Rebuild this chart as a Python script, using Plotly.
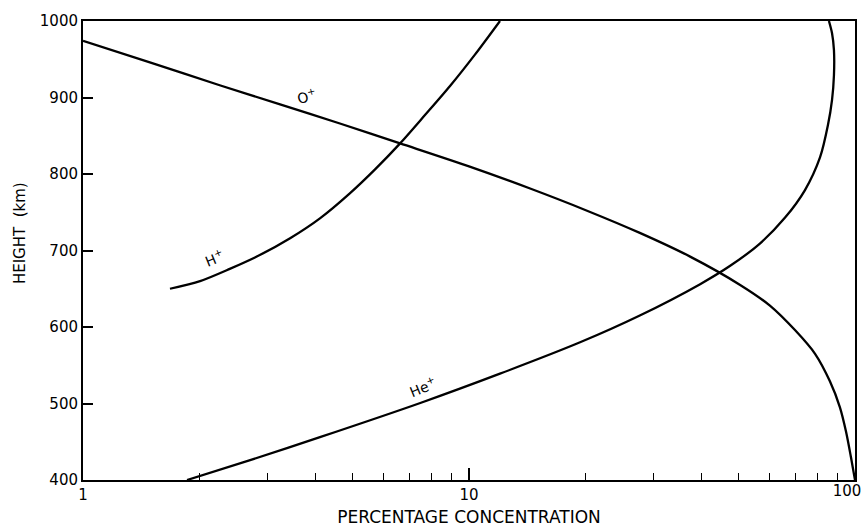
import plotly.graph_objects as go

# O+ percentage vs height (km)
o_pct = [1, 1.49, 2.26, 3.24, 4.63, 6.63, 10, 14.4, 20.0, 27.7, 37.4, 50.4, 60.2, 69.9, 78.8, 86.1, 91.4, 94.8, 97.6, 100]
o_h   = [974, 946, 916, 891, 866, 840, 810, 781, 753, 723, 692, 655, 628, 596, 565, 529, 495, 463, 430, 400]

# H+ percentage vs height (km)
h_pct = [1.68, 2.01, 2.40, 2.87, 3.44, 4.11, 4.92, 5.71, 6.63, 7.69, 8.93, 10.36, 12.03]
h_h   = [650, 660, 676, 694, 716, 742, 775, 806, 840, 877, 915, 956, 1000]

# He+ percentage vs height (km)
he_pct = [1.86, 2.71, 4.11, 7.51, 12.03, 19.4, 27.7, 39.7, 47.5, 56.7, 65.9, 74.2, 81.2, 85.1, 87.2, 88.2, 88.2, 87.2, 85.6]
he_h   = [400, 426, 456, 501, 539, 580, 615, 656, 680, 709, 743, 779, 822, 864, 897, 929, 962, 984, 1000]

x_ticks = [1, 2, 3, 4, 5, 6, 7, 8, 9, 10, 20, 30, 40, 50, 60, 70, 80, 90]
x_labels = ["1", "", "", "", "", "", "", "", "", "10", "", "", "", "", "", "", "", ""]
x_end_tick = [10, 100]
x_end_label = ["", "100"]
y_ticks = [400, 500, 600, 700, 800, 900, 1000]

fig = go.Figure()
for xs, ys in [(o_pct, o_h), (h_pct, h_h), (he_pct, he_h)]:
    fig.add_trace(go.Scatter(x=xs, y=ys, mode="lines",
                             line=dict(color="black", width=2.3, shape="spline", smoothing=0.8),
                             showlegend=False, hoverinfo="skip"))
# invisible trace on overlay axis (long major tick at 10, end label 100)
fig.add_trace(go.Scatter(x=[1, 100], y=[400, 400], xaxis="x2", mode="lines",
                         line=dict(width=0), showlegend=False, hoverinfo="skip"))

fam = "DejaVu Sans, Liberation Sans, sans-serif"
fig.update_layout(
    width=866, height=527,
    margin=dict(l=83, r=11, t=21, b=47, autoexpand=False),
    plot_bgcolor="white", paper_bgcolor="white",
    font=dict(family=fam, size=15, color="black"),
    xaxis=dict(type="log", range=[0, 2], tickvals=x_ticks, ticktext=x_labels,
               ticks="inside", ticklen=7, tickwidth=1.3, tickcolor="black",
               ticklabeloverflow="allow", automargin=False,
               showline=True, linecolor="black", linewidth=2, mirror=True,
               showgrid=False, zeroline=False,
               title=dict(text="PERCENTAGE CONCENTRATION", font=dict(size=17))),
    xaxis2=dict(type="log", range=[0, 2], overlaying="x", tickvals=x_end_tick, ticktext=x_end_label,
                ticks="inside", ticklen=12, tickwidth=1.5, tickcolor="black",
                ticklabelshift=-8, ticklabeloverflow="allow", automargin=False,
                tickfont=dict(size=15),
                showline=False, showgrid=False, zeroline=False, side="bottom"),
    yaxis=dict(range=[400, 1000], tickvals=y_ticks, automargin=False,
               ticks="inside", ticklen=10, tickwidth=1.5, tickcolor="black",
               showline=True, linecolor="black", linewidth=2, mirror=True,
               showgrid=False, zeroline=False),
    annotations=[
        dict(x=-0.0816, y=0.538, xref="paper", yref="paper", text="HEIGHT  (km)", showarrow=False,
             textangle=-90, font=dict(size=15), xanchor="center", yanchor="middle"),
        dict(x=0.58, y=902, xref="x", yref="y", text="O<sup>+</sup>", showarrow=False, textangle=-14,
             font=dict(size=14)),
        dict(x=0.34, y=690, xref="x", yref="y", text="H<sup>+</sup>", showarrow=False, textangle=-22,
             font=dict(size=14)),
        dict(x=0.88, y=522, xref="x", yref="y", text="He<sup>+</sup>", showarrow=False, textangle=-22,
             font=dict(size=14)),
    ],
)
fig.write_html("out.html")
